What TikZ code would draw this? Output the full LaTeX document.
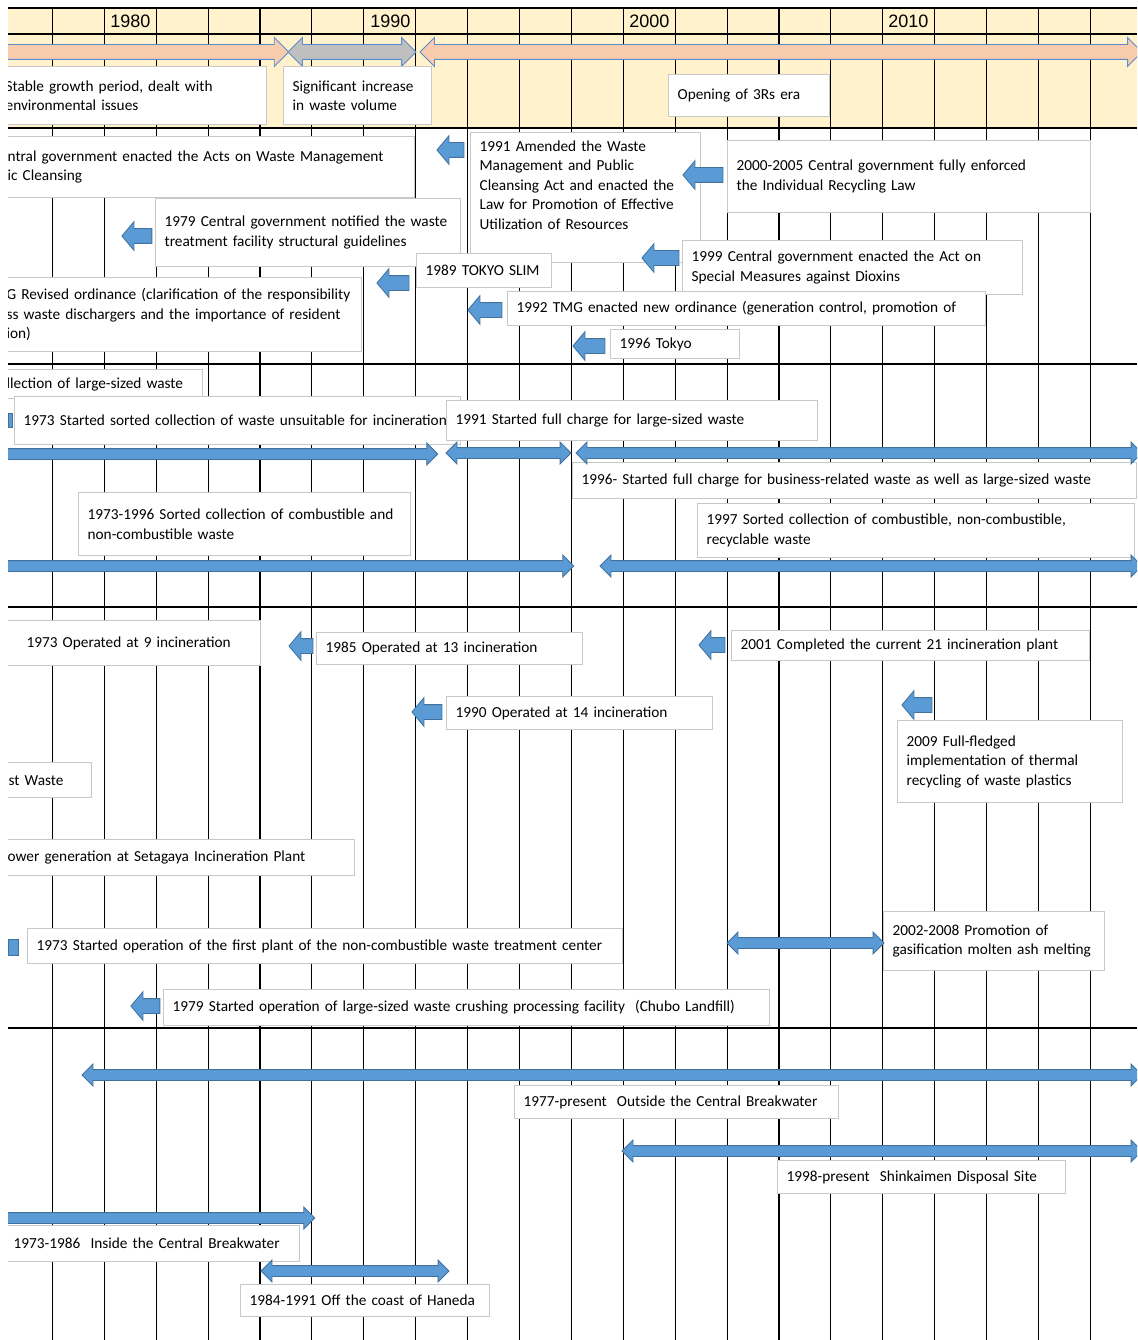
\documentclass[tikz,border=0pt]{standalone}
\usepackage{fontspec}
\setmainfont{Carlito}
\newfontfamily\yearfont{Liberation Sans}
\usetikzlibrary{shapes.arrows}
\definecolor{headeryellow}{RGB}{255,242,204}
\definecolor{erasalmon}{RGB}{248,203,173}
\definecolor{eragray}{RGB}{191,191,191}
\definecolor{eraedge}{RGB}{91,140,205}
\definecolor{arrowblue}{RGB}{91,155,213}
\definecolor{arrowedge}{RGB}{65,113,156}
\definecolor{boxgray}{RGB}{200,200,200}
\newcommand{\evfont}{\fontsize{15.3}{19.5}\selectfont\spaceskip=0.2em plus 0.1em\relax\hyphenpenalty=10000\exhyphenpenalty=10000}

\begin{document}
\begin{tikzpicture}[x=1pt, y=-1pt,
    gridline/.style={black, line width=1.1pt},
    yearlabel/.style={anchor=east, font=\yearfont\fontsize{18}{18}\selectfont},
    evbox/.style 2 args={draw=boxgray, fill=white, line width=1.3pt, anchor=north west,
        inner xsep=9pt, inner ysep=0pt, text width=#1-18, minimum height=#2,
        align=left, font=\evfont},
    era/.style={draw=eraedge, line width=0.9pt, inner xsep=0pt, inner ysep=7pt,
        single arrow head extend=7pt, double arrow head extend=7pt, minimum height=#1},
    backarrow/.style={single arrow, shape border rotate=180, fill=arrowblue, draw=arrowedge,
        line width=0.8pt, inner xsep=0pt, inner ysep=7pt, single arrow head extend=7pt,
        single arrow tip angle=100, minimum height=#1},
    spanarrow/.style={fill=arrowblue, draw=arrowedge, line width=0.8pt, inner xsep=0pt,
        inner ysep=5pt, single arrow head extend=5.5pt, double arrow head extend=5.5pt,
        minimum height=#1}]
\useasboundingbox (0,0) rectangle (1137,1340);
\begin{scope}
\clip (8,8) rectangle (1137,1340);

% Cabecera y cuadricula
\fill[headeryellow] (8,8) rectangle (1137,128);
\foreach \i in {0,...,20} \draw[gridline] ({52.4+51.9*\i},8) -- ({52.4+51.9*\i},1340);
\foreach \y in {8,34,128,364,607,1028} \draw[gridline] (8,\y) -- (1137,\y);
\node[yearlabel] (y1980) at (154,21) {1980}; \node[yearlabel] (y1990) at (414,21) {1990};
\node[yearlabel] (y2000) at (673,21) {2000}; \node[yearlabel] (y2010) at (932,21) {2010};

% Epocas
\node[era=305, single arrow, fill=erasalmon] (era1) at (132.5,52) {};
\node[era=128, double arrow, fill=eragray] (era2) at (352,52) {};
\node[era=722, double arrow, fill=erasalmon] (era3) at (781,52) {};
\node[evbox={270}{58}] (stable) at (-4,66) {Stable growth period, dealt with\\environmental issues};
\node[evbox={148}{58}] (increase) at (283,66) {Significant increase\\in waste volume};
\node[evbox={161}{42}] (threeR) at (668,74) {Opening of 3Rs era};

% Leyes y ordenanzas
\node[evbox={416}{61}] (law1) at (-2,136) {ntral government enacted the Acts on Waste Management\\ic Cleansing};
\node[evbox={230}{130}, text depth=103pt] (law2) at (470,132) {1991 Amended the Waste\\Management and Public\\Cleansing Act and enacted the\\Law for Promotion of Effective\\Utilization of Resources};
\node[evbox={363}{72}] (law3) at (727,140) {2000-2005 Central government fully enforced\\the Individual Recycling Law};
\node[evbox={305}{68}] (law4) at (155,198) {1979 Central government notified the waste\\treatment facility structural guidelines};
\node[evbox={340}{54}] (law6) at (682,240) {1999 Central government enacted the Act on\\Special Measures against Dioxins};
\node[evbox={135}{34}] (law5) at (416,253) {1989 TOKYO SLIM};
\node[evbox={364}{74}] (law7) at (-3,277) {G Revised ordinance (clarification of the responsibility\\ss waste dischargers and the importance of resident\\ion)};
\node[evbox={478}{34}] (law8) at (507,291) {1992 TMG enacted new ordinance (generation control, promotion of};
\node[evbox={129}{29}] (law9) at (610,329) {1996 Tokyo};
\node[backarrow=27] (ba1) at (453.5,150) {};
\node[backarrow=40] (ba2) at (706,175) {};
\node[backarrow=30] (ba3) at (140,236) {};
\node[backarrow=32] (ba4) at (396,283) {};
\node[backarrow=37] (ba5) at (663.5,258) {};
\node[backarrow=34] (ba6) at (488,310) {};
\node[backarrow=32] (ba7) at (592,346) {};

% Recoleccion
\node[evbox={205}{29}] (col1) at (-3,369) {llection of large-sized waste};
\draw[fill=arrowblue, draw=arrowedge] (8,413) rectangle (12,427);
\node[evbox={446}{48}] (col2) at (14,396) {1973 Started sorted collection of waste unsuitable for incineration};
\node[evbox={371}{40}] (col3) at (446,400) {1991 Started full charge for large-sized waste};
\node[evbox={564}{36}] (col4) at (572,462) {1996- Started full charge for business-related waste as well as large-sized waste};
\node[evbox={332}{63}] (col5) at (78,492) {1973-1996 Sorted collection of combustible and\\non-combustible waste};
\node[evbox={437}{54}] (col6) at (697,503) {1997 Sorted collection of combustible, non-combustible,\\recyclable waste};
\node[spanarrow=455, single arrow] (sp1) at (207.5,454) {};
\node[spanarrow=125, double arrow] (sp2) at (508.5,453) {};
\node[spanarrow=566, double arrow] (sp3) at (859,453) {};
\node[spanarrow=591, single arrow] (sp4) at (275.5,566) {};
\node[spanarrow=542, double arrow] (sp5) at (871,566) {};

% Incineracion
\node[evbox={264}{45}, align=center] (inc1) at (-4,620) {1973 Operated at 9 incineration};
\node[evbox={266}{32}] (inc2) at (316,632) {1985 Operated at 13 incineration};
\node[evbox={358}{30}] (inc3) at (731,630) {2001 Completed the current 21 incineration plant};
\node[evbox={266}{33}] (inc4) at (446,696) {1990 Operated at 14 incineration};
\node[evbox={225}{82}] (inc5) at (897,720) {2009 Full-fledged\\implementation of thermal\\recycling of waste plastics};
\node[evbox={92}{35}] (inc6) at (-1,762) {st Waste};
\node[evbox={356}{36}] (inc7) at (-2,839) {ower generation at Setagaya Incineration Plant};
\draw[fill=arrowblue, draw=arrowedge] (8,939) rectangle (18,955);
\node[evbox={595}{35}] (inc8) at (27,928) {1973 Started operation of the first plant of the non-combustible waste treatment center};
\node[evbox={221}{59}] (inc9) at (883,911) {2002-2008 Promotion of\\gasification molten ash melting};
\node[evbox={606}{36}] (inc10) at (163,989) {1979 Started operation of large-sized waste crushing processing facility\ \ (Chubo Landfill)};
\node[backarrow=24] (ba8) at (304,646) {};
\node[backarrow=26] (ba9) at (715,645) {};
\node[backarrow=30] (ba10) at (430,712) {};
\node[backarrow=30] (ba11) at (920,705) {};
\node[backarrow=29] (ba12) at (148.5,1006) {};
\node[spanarrow=157, double arrow] (sp6) at (805.5,943) {};

% Vertederos
\node[evbox={324}{33}] (lnd1) at (514,1085) {1977-present\ \ Outside the Central Breakwater};
\node[evbox={288}{33}] (lnd2) at (777,1160) {1998-present\ \ Shinkaimen Disposal Site};
\node[evbox={295}{36}] (lnd3) at (4,1225) {1973-1986\ \ Inside the Central Breakwater};
\node[evbox={249}{32}] (lnd4) at (240,1284) {1984-1991 Off the coast of Haneda};
\node[spanarrow=1060, double arrow] (sp7) at (612,1075) {};
\node[spanarrow=520, double arrow] (sp8) at (882,1151) {};
\node[spanarrow=332, single arrow] (sp9) at (146,1218) {};
\node[spanarrow=188, double arrow] (sp10) at (355,1271) {};
\end{scope}
\end{tikzpicture}
\end{document}
